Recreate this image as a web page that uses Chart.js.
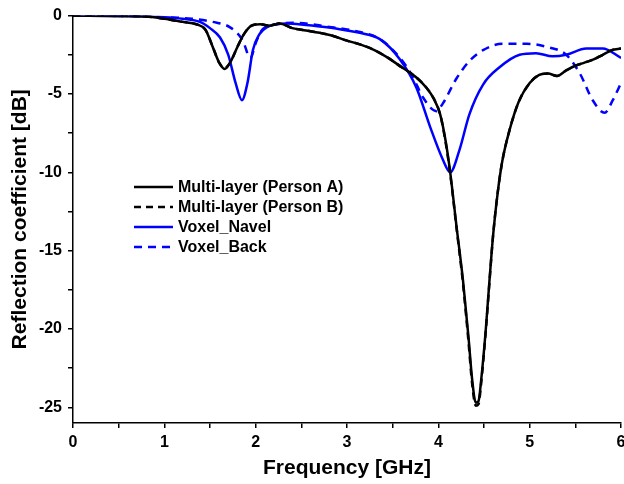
<!DOCTYPE html>
<html>
<head>
<meta charset="utf-8">
<script src="https://cdn.jsdelivr.net/npm/chart.js@4.4.1/dist/chart.umd.min.js"></script>
<style>
  html, body { margin: 0; padding: 0; background: #fff; }
  #wrap { width: 624px; height: 484px; }
</style>
</head>
<body>
<div id="wrap"><canvas id="s11"></canvas></div>
<script>
// reflection coefficient curves, frequency in GHz, values in dB
var personA_f  = [0, 0.5, 0.8, 1.0, 1.2, 1.35, 1.45, 1.53, 1.6, 1.66, 1.72, 1.8, 1.87, 1.95, 2.05, 2.15, 2.26, 2.4, 2.55, 2.7, 2.85, 3.0, 3.15, 3.3, 3.45, 3.6, 3.75, 3.87, 3.95, 4.02, 4.08, 4.13, 4.2, 4.27, 4.33, 4.37, 4.41, 4.44, 4.47, 4.52, 4.56, 4.6, 4.65, 4.7, 4.78, 4.88, 5.0, 5.1, 5.2, 5.3, 5.4, 5.5, 5.6, 5.7, 5.8, 5.9, 6.0];
var personA_db = [0, -0.02, -0.05, -0.2, -0.4, -0.55, -0.9, -2.0, -3.0, -3.4, -3.0, -2.0, -1.2, -0.65, -0.55, -0.65, -0.5, -0.8, -0.95, -1.1, -1.3, -1.6, -1.85, -2.2, -2.7, -3.3, -3.9, -4.6, -5.3, -6.3, -8.0, -10.0, -13.5, -16.9, -20.5, -23.2, -24.7, -24.6, -23.2, -20.0, -16.9, -14.0, -11.3, -9.3, -7.3, -5.5, -4.3, -3.8, -3.7, -3.85, -3.5, -3.2, -3.0, -2.8, -2.5, -2.2, -2.1];

var personB_f  = [0, 0.5, 0.8, 1.0, 1.2, 1.35, 1.45, 1.53, 1.6, 1.66, 1.72, 1.8, 1.87, 1.95, 2.05, 2.15, 2.26, 2.4, 2.55, 2.7, 2.85, 3.0, 3.15, 3.3, 3.45, 3.6, 3.75, 3.87, 3.95, 4.02, 4.08, 4.13, 4.2, 4.27, 4.33, 4.37, 4.41, 4.44, 4.47, 4.52, 4.56, 4.6, 4.65, 4.7, 4.78, 4.88, 5.0, 5.1, 5.2, 5.3, 5.4, 5.5, 5.6, 5.7, 5.8, 5.9, 6.0];
var personB_db = [0, -0.02, -0.05, -0.2, -0.4, -0.55, -0.9, -2.0, -3.0, -3.35, -3.0, -2.0, -1.2, -0.65, -0.55, -0.65, -0.5, -0.8, -0.95, -1.1, -1.3, -1.6, -1.85, -2.2, -2.7, -3.3, -3.9, -4.6, -5.3, -6.3, -8.1, -10.1, -13.6, -17.1, -20.8, -23.5, -24.9, -24.8, -23.4, -20.1, -17.0, -14.0, -11.3, -9.3, -7.3, -5.5, -4.3, -3.8, -3.7, -3.85, -3.5, -3.2, -3.0, -2.8, -2.5, -2.2, -2.1];

var navel_f  = [0, 0.5, 1.0, 1.2, 1.39, 1.5, 1.61, 1.7, 1.78, 1.85, 1.91, 1.97, 2.04, 2.12, 2.34, 2.55, 2.78, 3.0, 3.14, 3.36, 3.58, 3.76, 3.91, 4.05, 4.13, 4.23, 4.34, 4.49, 4.67, 4.89, 5.07, 5.25, 5.4, 5.62, 5.8, 6.0];
var navel_db = [0, -0.02, -0.1, -0.2, -0.4, -0.8, -1.4, -2.5, -4.3, -5.4, -4.3, -2.2, -1.2, -0.75, -0.5, -0.6, -0.75, -0.95, -1.1, -1.5, -2.8, -4.6, -7.1, -9.2, -10.0, -8.6, -6.3, -4.4, -3.3, -2.5, -2.4, -2.6, -2.5, -2.1, -2.1, -2.7];

var back_f  = [0, 0.5, 1.0, 1.3, 1.53, 1.72, 1.86, 1.94, 2.01, 2.08, 2.23, 2.41, 2.78, 3.14, 3.36, 3.58, 3.72, 3.83, 3.98, 4.05, 4.2, 4.34, 4.49, 4.7, 4.97, 5.19, 5.4, 5.55, 5.69, 5.82, 5.91, 6.0];
var back_db = [0, -0.02, -0.1, -0.2, -0.4, -0.75, -1.6, -2.7, -1.6, -0.85, -0.55, -0.45, -0.7, -1.05, -1.5, -2.7, -3.9, -5.2, -6.1, -5.6, -4.0, -2.9, -2.2, -1.8, -1.8, -2.0, -2.5, -3.7, -5.4, -6.2, -5.4, -4.3];

var xTicks = [0, 0.5, 1, 1.5, 2, 2.5, 3, 3.5, 4, 4.5, 5, 5.5, 6];
var yTicks = [-25, -22.5, -20, -17.5, -15, -12.5, -10, -7.5, -5, -2.5, 0];

function pts(f, v) {
  return f.map(function (x, i) { return { x: x, y: v[i] }; });
}

var fontFam = 'Arial, "Liberation Sans", sans-serif';

// legend drawn inside the plot area
var innerLegend = {
  id: 'innerLegend',
  afterDraw: function (chart) {
    var c = chart.ctx;
    var x0 = 134, y0 = 187, gap = 20;
    c.save();
    c.font = 'bold 16px ' + fontFam;
    c.textBaseline = 'middle';
    chart.data.datasets.forEach(function (ds, i) {
      var y = y0 + i * gap;
      c.strokeStyle = ds.borderColor;
      c.lineWidth = 2.5;
      c.setLineDash(ds.borderDash || []);
      c.beginPath();
      c.moveTo(x0, y);
      c.lineTo(x0 + 39, y);
      c.stroke();
      c.setLineDash([]);
      c.fillStyle = '#000';
      c.fillText(ds.label, x0 + 44, y + 1);
    });
    c.restore();
  }
};

var ctx = document.getElementById('s11').getContext('2d');
var chart = new Chart(ctx, {
  type: 'line',
  data: {
    datasets: [
      { label: 'Multi-layer (Person A)', data: pts(personA_f, personA_db), borderColor: '#000000', borderWidth: 2.5 },
      { label: 'Multi-layer (Person B)', data: pts(personB_f, personB_db), borderColor: '#000000', borderWidth: 2.5, borderDash: [7, 5] },
      { label: 'Voxel_Navel', data: pts(navel_f, navel_db), borderColor: '#0000ff', borderWidth: 2.5 },
      { label: 'Voxel_Back', data: pts(back_f, back_db), borderColor: '#0000ff', borderWidth: 2.5, borderDash: [8, 6] }
    ]
  },
  options: {
    responsive: true,
    maintainAspectRatio: false,
    animation: false,
    elements: {
      point: { radius: 0 },
      line: { cubicInterpolationMode: 'monotone', fill: false }
    },
    layout: { padding: { top: 15, right: 3, left: 0, bottom: 0 } },
    plugins: { legend: { display: false }, tooltip: { enabled: false } },
    scales: {
      x: {
        type: 'linear', min: 0, max: 6,
        afterBuildTicks: function (s) { s.ticks = xTicks.map(function (v) { return { value: v }; }); },
        afterFit: function (s) { s.height = 61; s.paddingRight = 0; s.paddingLeft = 0; },
        border: { color: '#000', width: 1.5 },
        grid: { drawOnChartArea: false, color: '#000', lineWidth: 1.5, tickLength: 5 },
        ticks: {
          color: '#000', padding: 5, maxRotation: 0, autoSkip: false,
          font: { family: fontFam, size: 16, weight: 'bold' },
          callback: function (v) { return v % 1 === 0 ? String(v) : ''; }
        },
        title: {
          display: true, text: 'Frequency [GHz]', color: '#000',
          font: { family: fontFam, size: 21, weight: 'bold' },
          padding: { top: 2, bottom: 3 }
        }
      },
      y: {
        type: 'linear', min: -26, max: 0,
        afterBuildTicks: function (s) { s.ticks = yTicks.map(function (v) { return { value: v }; }); },
        afterFit: function (s) { s.width = 73; },
        border: { color: '#000', width: 1.5 },
        grid: { drawOnChartArea: false, color: '#000', lineWidth: 1.5, tickLength: 5 },
        ticks: {
          color: '#000', padding: 6, autoSkip: false,
          font: { family: fontFam, size: 16, weight: 'bold' },
          callback: function (v) { return v % 5 === 0 ? String(v) : ''; }
        },
        title: {
          display: true, text: 'Reflection coefficient [dB]', color: '#000',
          font: { family: fontFam, size: 21, weight: 'bold' },
          padding: { top: 8, bottom: 0 }
        }
      }
    }
  },
  plugins: [innerLegend]
});
</script>
</body>
</html>
